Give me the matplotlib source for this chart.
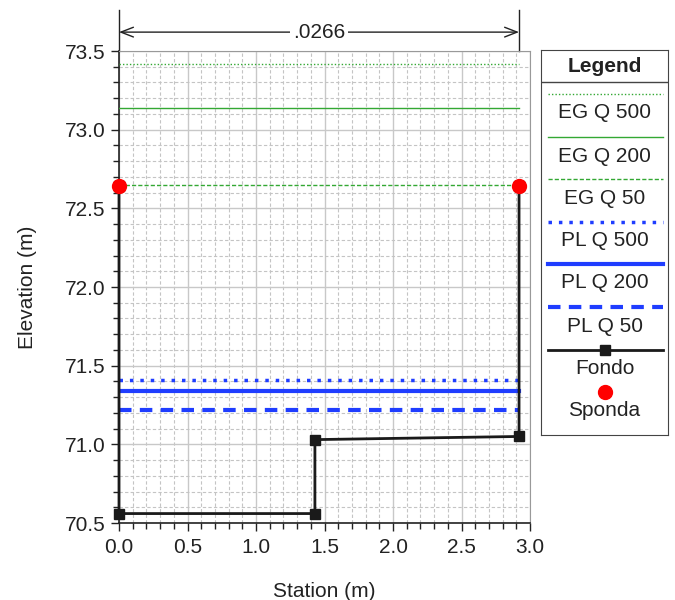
import numpy as np
import matplotlib
matplotlib.use("Agg")
import matplotlib.pyplot as plt
from matplotlib.ticker import MultipleLocator

plt.rcParams['font.family'] = ['Liberation Sans', 'DejaVu Sans']

# water surface / energy grade elevations (m)
profile_names = ['EG Q 500', 'EG Q 200', 'EG Q 50', 'PL Q 500', 'PL Q 200', 'PL Q 50']
profile_elev = [73.42, 73.14, 72.65, 71.41, 71.34, 71.22]
profile_x = [0.0, 2.92]

# channel bottom (Fondo) and bank points (Sponda)
fondo_x = [0.0, 0.0, 1.43, 1.43, 2.92, 2.92]
fondo_y = [72.64, 70.56, 70.56, 71.03, 71.05, 72.64]
sponda_x = [0.0, 2.92]
sponda_y = [72.64, 72.64]
roughness_label = '.0266'

green = '#33a833'
blue = '#1f3dff'
ink = '#222222'
fs = 15
styles = [
    dict(color=green, lw=1.0, ls=(0, (1, 1.5))),
    dict(color=green, lw=1.0, ls='-'),
    dict(color=green, lw=1.0, ls=(0, (3, 1.5))),
    dict(color=blue, lw=2.5, ls=(0, (1, 2))),
    dict(color=blue, lw=3.0, ls='-'),
    dict(color=blue, lw=3.0, ls=(0, (3, 2))),
]

fig = plt.figure(figsize=(6.75, 6.0), dpi=100)
ax = fig.add_axes([119 / 675, 1 - 523 / 600, 411 / 675, 472 / 600])

for name, elev, st in zip(profile_names, profile_elev, styles):
    ax.plot(profile_x, [elev, elev], zorder=3, **st)

ax.plot(fondo_x, fondo_y, color='#1a1a1a', lw=2, marker='s', ms=7, zorder=4, clip_on=False)
ax.plot(sponda_x, sponda_y, 'o', color='red', ms=10, zorder=5, clip_on=False)

ax.set_xlim(0, 3.0)
ax.set_ylim(70.5, 73.5)
ax.xaxis.set_major_locator(MultipleLocator(0.5))
ax.xaxis.set_minor_locator(MultipleLocator(0.1))
ax.yaxis.set_major_locator(MultipleLocator(0.5))
ax.yaxis.set_minor_locator(MultipleLocator(0.1))
ax.xaxis.set_major_formatter(plt.FormatStrFormatter('%.1f'))
ax.yaxis.set_major_formatter(plt.FormatStrFormatter('%.1f'))
ax.grid(which='major', color='#c8c8c8', lw=1.0, ls='-')
ax.grid(which='minor', color='#c4c4c4', lw=0.8, ls=(0, (3, 2)))
ax.set_axisbelow(True)
ax.tick_params(which='major', direction='out', length=6, width=1, labelsize=fs, colors=ink)
ax.tick_params(axis='x', which='major', pad=5)
ax.tick_params(which='minor', direction='out', length=4, width=1, colors=ink)
for side in ['top', 'right']:
    ax.spines[side].set_color('#999999')
for side in ['left', 'bottom']:
    ax.spines[side].set_color(ink)
    ax.spines[side].set_linewidth(1.2)

ax.set_xlabel('Station (m)', fontsize=fs, labelpad=18, color=ink)
ax.set_ylabel('Elevation (m)', fontsize=fs, labelpad=20, color=ink)

# roughness dimension annotation above the plot
tr = ax.get_xaxis_transform()
for xv in sponda_x:
    ax.plot([xv, xv], [1.0, 1.087], transform=tr, color=ink, lw=1, clip_on=False)
ax.annotate('', xy=(sponda_x[0], 1.040), xytext=(sponda_x[1], 1.040), xycoords=tr,
            textcoords=tr, arrowprops=dict(arrowstyle='<->,head_length=0.9,head_width=0.35',
                                            color=ink, lw=1, shrinkA=0, shrinkB=0))
ax.text(np.mean(sponda_x), 1.040, roughness_label, transform=tr, ha='center', va='center',
        fontsize=fs, color=ink,
        bbox=dict(facecolor='white', edgecolor='none', pad=2))

# legend drawn as a separate panel (pixel coordinates)
leg = fig.add_axes([541 / 675, 1 - 435 / 600, 127 / 675, 385 / 600])
leg.set_xlim(541, 668)
leg.set_ylim(435, 50)
leg.set_xticks([])
leg.set_yticks([])
for s in leg.spines.values():
    s.set_color('#444444')
leg.text(604.5, 66, 'Legend', ha='center', va='center', fontsize=fs, fontweight='bold', color=ink)
leg.plot([541, 668], [82, 82], color='#444444', lw=1)

line_y = [94, 137, 179, 222, 264, 307]
for name, ly, st in zip(profile_names, line_y, styles):
    leg.plot([548, 663], [ly, ly], **st)
    leg.text(604.5, ly + 19, name, ha='center', va='center', fontsize=fs, color=ink)
leg.plot([548, 663], [350, 350], color='#1a1a1a', lw=2)
leg.plot([604.5], [350], 's', color='#1a1a1a', ms=7)
leg.text(604.5, 368, 'Fondo', ha='center', va='center', fontsize=fs, color=ink)
leg.plot([604.5], [392], 'o', color='red', ms=10)
leg.text(604.5, 411, 'Sponda', ha='center', va='center', fontsize=fs, color=ink)

fig.savefig('out.png', dpi=100)
